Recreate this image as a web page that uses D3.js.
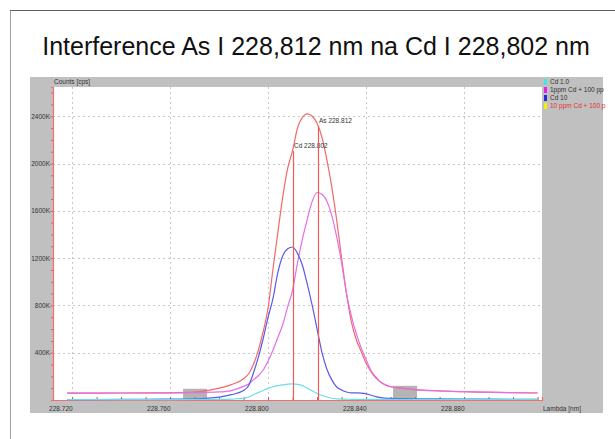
<!DOCTYPE html>
<html>
<head>
<meta charset="utf-8">
<script src="https://cdn.jsdelivr.net/npm/d3@7"></script>
<style>
  html, body { margin: 0; padding: 0; background: #fff; }
  svg { display: block; }
  text { font-family: "Liberation Sans", Arial, sans-serif; }
</style>
</head>
<body>
<svg id="chart" width="615" height="439"></svg>
<script>
// ---- data (wavelength in nm, intensity in K cps) ----
const lambda = [228.718, 228.730, 228.740, 228.750, 228.760, 228.770, 228.780, 228.785, 228.790,
  228.792, 228.794, 228.796, 228.798, 228.800, 228.802, 228.804, 228.806, 228.808, 228.810,
  228.812, 228.814, 228.816, 228.818, 228.820, 228.822, 228.824, 228.826, 228.828, 228.830,
  228.832, 228.834, 228.836, 228.838, 228.840, 228.842, 228.844, 228.846, 228.850, 228.855,
  228.860, 228.870, 228.880, 228.890, 228.900, 228.910];

const cd10ppmAs = [58, 58, 59, 60, 61, 66, 100, 130, 180,
  220, 300, 420, 580, 780, 1110, 1420, 1720, 1960, 2110,
  2300, 2390, 2420, 2400, 2340, 2220, 2030, 1800, 1520, 1200,
  900, 660, 510, 410, 310, 240, 185, 150, 112, 100,
  88, 78, 70, 66, 62, 59];

const cd1ppmAs = [58, 58, 59, 59, 60, 62, 68, 80, 115,
  135, 170, 205, 254, 330, 423, 530, 640, 790, 930,
  1160, 1360, 1530, 1680, 1755, 1740, 1680, 1560, 1380, 1160,
  900, 710, 560, 440, 340, 250, 195, 150, 112, 98,
  86, 76, 70, 65, 62, 59];

const cd10 = [4, 4, 5, 6, 7, 10, 25, 45, 80,
  120, 228, 360, 520, 700, 860, 1080, 1220, 1280, 1294,
  1240, 1140, 980, 800, 600, 400, 260, 170, 110, 85,
  68, 60, 60, 58, 52, 40, 28, 20, 14, 12,
  10, 9, 8, 7, 6, 5];

const cd1 = [3, 3, 3, 4, 4, 5, 6, 8, 14,
  25, 45, 62, 80, 98, 112, 122, 128, 134, 136,
  132, 122, 100, 78, 55, 38, 25, 15, 10, 8,
  7, 6, 5, 5, 5, 5, 5, 5, 5, 5,
  5, 5, 5, 5, 5, 5];

const legendLabels = ["Cd 1.0", "1ppm Cd + 100 pp", "Cd 10", "10 ppm Cd + 100 p"];
const xTickValues = [228.720, 228.760, 228.800, 228.840, 228.880];
const yTickValues = [400, 800, 1200, 1600, 2000, 2400];
const lineMarkers = [ {label: "Cd 228.802", at: 228.8100, labelY: 2130},
                      {label: "As 228.812", at: 228.8205, labelY: 2340} ];
const bgRegions = [[228.7653, 228.7751, 95], [228.8510, 228.8608, 120]];

// ---- layout ----
const svg = d3.select("#chart");
const W = 615, H = 439;
const plot = {left: 53, right: 542, top: 87, bottom: 400};

// slide frame
svg.append("rect").attr("x", 0).attr("y", 0).attr("width", W).attr("height", H).attr("fill", "#fff");
svg.append("line").attr("x1", 10.5).attr("x2", 10.5).attr("y1", 10).attr("y2", H).attr("stroke", "#a0a0a0").attr("stroke-width", 1);
svg.append("line").attr("x1", 10).attr("x2", W).attr("y1", 10.5).attr("y2", 10.5).attr("stroke", "#606060").attr("stroke-width", 1);

// title
svg.append("text").attr("x", 316).attr("y", 55).attr("text-anchor", "middle")
  .attr("font-size", 25).attr("fill", "#111")
  .text("Interference As I 228,812 nm na Cd I 228,802 nm");

// gray panel
svg.append("rect").attr("x", 30).attr("y", 77).attr("width", 573).attr("height", 336).attr("fill", "#c0c0c0");
svg.append("rect").attr("x", plot.left).attr("y", plot.top)
  .attr("width", plot.right - plot.left).attr("height", plot.bottom - plot.top).attr("fill", "#fff");

const x = d3.scaleLinear().domain([228.7122, 228.9118]).range([plot.left, plot.right]);
const y = d3.scaleLinear().domain([0, 2647]).range([plot.bottom, plot.top]);

// gridlines
const grid = svg.append("g").attr("stroke", "#c8c8c8").attr("stroke-dasharray", "2,3").attr("stroke-width", 1);
xTickValues.forEach(v => grid.append("line").attr("x1", Math.round(x(v)) + 0.5).attr("x2", Math.round(x(v)) + 0.5)
  .attr("y1", plot.top).attr("y2", plot.bottom));
yTickValues.forEach(v => grid.append("line").attr("y1", Math.round(y(v)) + 0.5).attr("y2", Math.round(y(v)) + 0.5)
  .attr("x1", plot.left).attr("x2", plot.right));

// background regions
bgRegions.forEach(r => svg.append("rect").attr("x", x(r[0])).attr("width", x(r[1]) - x(r[0]))
  .attr("y", y(r[2])).attr("height", y(0) - y(r[2])).attr("fill", "#b4b4b4"));

// axes
const yAxis = d3.axisLeft(y).tickValues(d3.range(100, 2700, 100)).tickSize(2)
  .tickFormat(d => yTickValues.includes(d) ? d + "K" : "");
const gy = svg.append("g").attr("transform", `translate(${plot.left},0)`).call(yAxis);
gy.select(".domain").attr("stroke", "#f07070").attr("stroke-width", 1.2);
gy.selectAll(".tick line").attr("stroke", "#e06060");
gy.selectAll(".tick text").attr("font-size", 6.5).attr("fill", "#333").attr("x", -3)
  .attr("font-family", "Liberation Sans, Arial, sans-serif");
gy.selectAll(".tick").filter(d => yTickValues.includes(d)).select("line").attr("x2", -3);

const xAxis = d3.axisBottom(x).tickValues(d3.range(0, 20).map(i => 228.72 + i * 0.01)).tickSize(-3)
  .tickFormat(d => xTickValues.some(v => Math.abs(v - d) < 1e-6) ? d.toFixed(3) : "");
const gx = svg.append("g").attr("transform", `translate(0,${plot.bottom})`).call(xAxis);
gx.select(".domain").attr("stroke", "#f07070").attr("stroke-width", 1.2);
gx.selectAll(".tick line").attr("stroke", "#d05050");
gx.selectAll(".tick text").attr("font-size", 6.5).attr("fill", "#333").attr("text-anchor", "end")
  .attr("y", 6).attr("dy", "0.71em").attr("font-family", "Liberation Sans, Arial, sans-serif");

svg.append("text").attr("x", 54).attr("y", 84).attr("font-size", 6.5).attr("fill", "#333").text("Counts [cps]");
svg.append("text").attr("x", 543).attr("y", 411).attr("font-size", 6.5).attr("fill", "#333").text("Lambda [nm]");

// series
const series = [
  {values: cd10ppmAs, color: "#f06a6a"},
  {values: cd1ppmAs, color: "#e66ee6"},
  {values: cd10, color: "#5a5ae6"},
  {values: cd1, color: "#66e0e6"}
];
const line = d3.line().x(d => x(d[0])).y(d => y(d[1])).curve(d3.curveMonotoneX);
series.forEach(s => {
  svg.append("path").datum(lambda.map((l, i) => [l, s.values[i]]))
    .attr("d", line).attr("fill", "none").attr("stroke", s.color).attr("stroke-width", 1.2);
});

// marker lines
lineMarkers.forEach(m => {
  const px = Math.round(x(m.at)) + 0.5;
  svg.append("line").attr("x1", px).attr("x2", px).attr("y1", y(m.labelY) + 3).attr("y2", plot.bottom)
    .attr("stroke", "#f05a5a").attr("stroke-width", 1.2);
  svg.append("text").attr("x", px + 0.5).attr("y", y(m.labelY)).attr("font-size", 6.5).attr("fill", "#333").text(m.label);
});

// legend
const legendColors = ["#40e8e8", "#e820e8", "#2828e0", "#f0f000"];
const legendText = ["#333", "#333", "#333", "#e03030"];
legendLabels.forEach((lab, i) => {
  const ly = 82 + i * 8;
  svg.append("rect").attr("x", 544).attr("y", ly - 3).attr("width", 3).attr("height", 6).attr("fill", legendColors[i]);
  svg.append("text").attr("x", 550).attr("y", ly + 2.3).attr("font-size", 6.5).attr("fill", legendText[i]).text(lab);
});
</script>
</body>
</html>
